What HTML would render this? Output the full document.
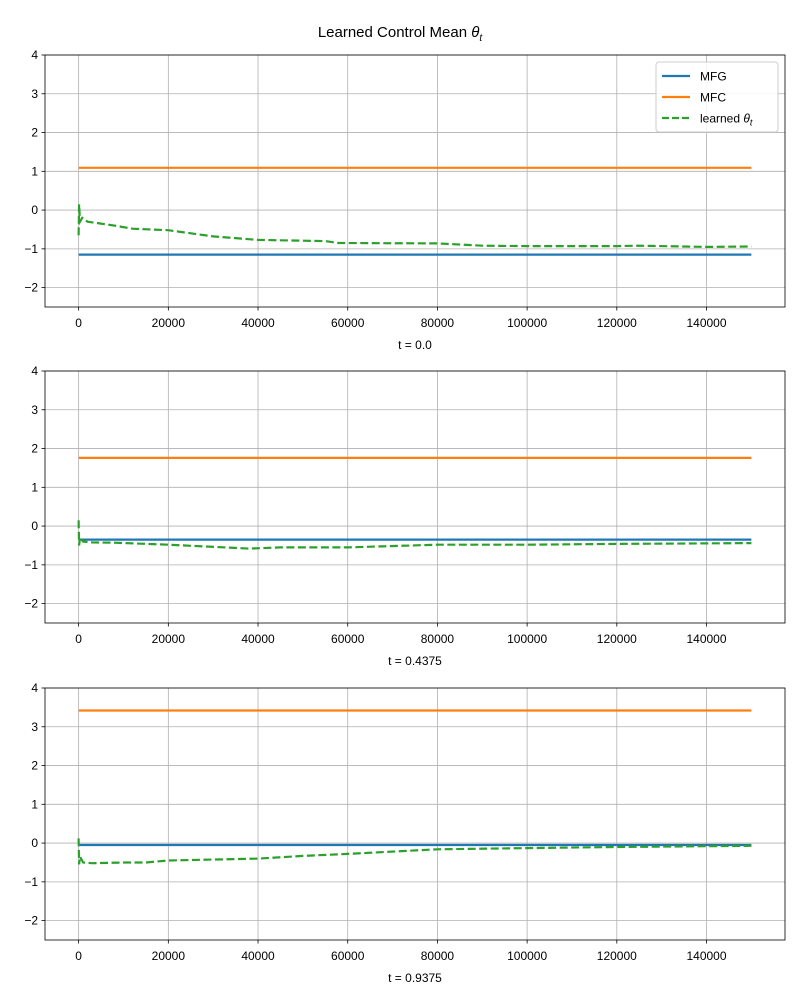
<!DOCTYPE html>
<html><head><meta charset="utf-8"><style>body{margin:0;background:#fff}svg{display:block;font-family:"Liberation Sans","DejaVu Sans",sans-serif}</style></head>
<body>
<svg id="fig" width="800" height="1000">
<text x="400" y="37" text-anchor="middle" font-size="15">Learned Control Mean <tspan font-style="italic">θ</tspan><tspan font-size="10" dy="4" font-style="italic">t</tspan></text>
</svg>
<script>
const xTicks=[0,20000,40000,60000,80000,100000,120000,140000];
const yTicks=[-2,-1,0,1,2,3,4];
const panelLabels=["t = 0.0","t = 0.4375","t = 0.9375"];
const mfgValues=[-1.15,-0.35,-0.05];
const mfcValues=[1.09,1.76,3.42];
const learnedX1=[0,100,300,800,2000,5000,8000,12000,20000,30000,40000,55000,58000,80000,90000,100000,120000,125000,140000,150000];
const learnedY1=[-0.65,0.15,-0.3,-0.2,-0.3,-0.35,-0.4,-0.48,-0.52,-0.68,-0.77,-0.8,-0.85,-0.86,-0.92,-0.93,-0.93,-0.92,-0.95,-0.94];
const learnedX2=[0,100,300,1000,3000,8000,20000,38000,45000,60000,80000,100000,120000,150000];
const learnedY2=[0.15,-0.5,-0.3,-0.4,-0.42,-0.43,-0.48,-0.58,-0.55,-0.55,-0.48,-0.48,-0.46,-0.44];
const learnedX3=[0,100,300,1000,3000,10000,15000,20000,40000,50000,60000,80000,100000,120000,150000];
const learnedY3=[0.12,-0.55,-0.35,-0.5,-0.52,-0.5,-0.5,-0.45,-0.4,-0.33,-0.28,-0.16,-0.13,-0.1,-0.07];
const learnedX=[learnedX1,learnedX2,learnedX3], learnedY=[learnedY1,learnedY2,learnedY3];
const NS="http://www.w3.org/2000/svg", svg=document.getElementById('fig');
function mk(t,a,p){const e=document.createElementNS(NS,t);for(const k in a)e.setAttribute(k,a[k]);(p||svg).appendChild(e);return e;}
const tops=[55,371,688], H=252, L=45, W=740;
const xMin=-7500,xMax=157500,yMin=-2.5,yMax=4;
for(let i=0;i<3;i++){
  const T=tops[i];
  const sx=v=>L+(v-xMin)/(xMax-xMin)*W, sy=v=>T+(yMax-v)/(yMax-yMin)*H;
  const g=mk('g',{});
  
  
  xTicks.forEach(v=>{const x=sx(v);mk('line',{x1:x,x2:x,y1:T,y2:T+H,stroke:'#b0b0b0','stroke-width':0.8},g);mk('line',{x1:x,x2:x,y1:T+H,y2:T+H+3.5,stroke:'#000','stroke-width':0.8},g);
    const t=mk('text',{x:x,y:T+H+20,'text-anchor':'middle','font-size':12},g);t.textContent=v;});
  yTicks.forEach(v=>{const y=sy(v);mk('line',{x1:L,x2:L+W,y1:y,y2:y,stroke:'#b0b0b0','stroke-width':0.8},g);mk('line',{x1:L-3.5,x2:L,y1:y,y2:y,stroke:'#000','stroke-width':0.8},g);
    const t=mk('text',{x:L-7,y:y+4,'text-anchor':'end','font-size':12},g);t.textContent=v<0?'−'+(-v):v;});
  const mfg=mk('line',{x1:sx(0),x2:sx(150000),y1:sy(mfgValues[i]),y2:sy(mfgValues[i]),stroke:'#1f77b4','stroke-width':2.2},g);
  
  const mfc=mk('line',{x1:sx(0),x2:sx(150000),y1:sy(mfcValues[i]),y2:sy(mfcValues[i]),stroke:'#ff7f0e','stroke-width':2.2},g);
  
  const pts=learnedX[i].map((x,j)=>sx(x).toFixed(1)+','+sy(learnedY[i][j]).toFixed(1)).join(' ');
  const lp=mk('polyline',{points:pts,fill:'none',stroke:'#2ca02c','stroke-width':2.2,'stroke-dasharray':'8,3.5'},g);
  
  mk('rect',{x:L,y:T,width:W,height:H,fill:'none',stroke:'#000','stroke-width':0.8},g);
  const xl=mk('text',{x:L+W/2,y:T+H+42,'text-anchor':'middle','font-size':12},g);xl.textContent=panelLabels[i];
  
}
const lg=mk('g',{});

mk('rect',{x:656,y:62,width:122,height:70,rx:3,fill:'#fff','fill-opacity':0.85,stroke:'#ccc'},lg);
const items=[['MFG','#1f77b4',''],['MFC','#ff7f0e',''],['learned','#2ca02c','7,3']];
items.forEach((it,k)=>{const y=76+k*21;
  mk('line',{x1:662,x2:690,y1:y,y2:y,stroke:it[1],'stroke-width':2.2,'stroke-dasharray':it[2]||'none'},lg);
  const t=mk('text',{x:700,y:y+4.5,'font-size':12},lg);t.textContent=it[0];
  
  if(k===2){const s=document.createElementNS(NS,'tspan');s.setAttribute('font-style','italic');s.textContent=' θ';t.appendChild(s);
    const s2=document.createElementNS(NS,'tspan');s2.setAttribute('font-style','italic');s2.setAttribute('font-size','9');s2.setAttribute('dy','3');s2.textContent='t';t.appendChild(s2);}
});
</script>
</body></html>
